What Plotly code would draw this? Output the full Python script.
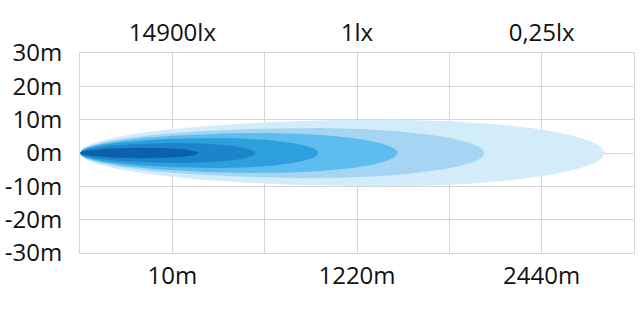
import numpy as np
import plotly.graph_objects as go

# Schematic beam chart data
y_ticks = [-30, -20, -10, 0, 10, 20, 30]
y_labels = ["-30m", "-20m", "-10m", "0m", "10m", "20m", "30m"]
x_grid = [0, 1, 2, 3, 4, 5, 6]
dist_pos = [1, 3, 5]
dist_labels = ["10m", "1220m", "2440m"]
lux_labels = ["14900lx", "1lx", "0,25lx"]

# beam layers (outer -> inner): reach in grid units, half-width in metres
layer_reach = [5.68, 4.38, 3.44, 2.58, 1.90, 1.28]
layer_halfwidth = [10.0, 7.5, 6.0, 4.5, 3.0, 1.6]
layer_colors = ["#d3ecfa", "#a6d5f4", "#5cbdee", "#2c9fdc", "#1d84ca", "#0a62ab"]

fig = go.Figure()

def outline(reach, half, tm=0.58, n=240):
    t = np.linspace(0, 1, n)
    h = np.empty_like(t)
    right = t >= tm
    h[right] = np.sqrt(np.clip(1 - ((t[right] - tm) / (1 - tm)) ** 2, 0, 1))
    u = (tm - t[~right]) / tm
    h[~right] = np.clip(1 - u ** 2, 0, 1) ** 0.5
    xs = t * reach
    x = np.concatenate([xs, xs[::-1]])
    y = np.concatenate([half * h, -half * h[::-1]])
    return x, y

for reach, half, col in zip(layer_reach, layer_halfwidth, layer_colors):
    x, y = outline(reach, half)
    fig.add_trace(go.Scatter(x=x, y=y, fill="toself", fillcolor=col,
                             line=dict(width=0, color=col), mode="lines",
                             hoverinfo="skip", showlegend=False))

# invisible trace for top axis
fig.add_trace(go.Scatter(x=[0, 6], y=[0, 0], xaxis="x2", mode="markers",
                         marker=dict(opacity=0), hoverinfo="skip", showlegend=False))

font = dict(family="Open Sans", size=24, color="#111111")
grid = "#d6d6d6"

fig.update_layout(
    width=640, height=318,
    margin=dict(l=79, r=5, t=53, b=65),
    paper_bgcolor="white", plot_bgcolor="white",
    font=font,
    xaxis=dict(range=[0, 6], tickvals=x_grid,
               ticktext=["" if v not in dist_pos else dist_labels[dist_pos.index(v)] for v in x_grid],
               showgrid=True, gridcolor=grid, gridwidth=1, zeroline=False,
               showline=True, linecolor=grid, linewidth=1, mirror=True,
               ticks="", ticklabelstandoff=1, tickfont=font),
    xaxis2=dict(range=[0, 6], overlaying="x", side="top", anchor="y",
                tickvals=dist_pos, ticktext=lux_labels, showgrid=False,
                zeroline=False, showline=False, ticks="", ticklabelstandoff=6,
                tickfont=font),
    yaxis=dict(range=[-30, 30], tickvals=y_ticks, ticktext=y_labels,
               showgrid=True, gridcolor=grid, gridwidth=1, zeroline=False,
               showline=True, linecolor=grid, linewidth=1, mirror=True,
               ticks="", ticklabelstandoff=12, tickfont=font),
)

fig.write_html("out.html")
